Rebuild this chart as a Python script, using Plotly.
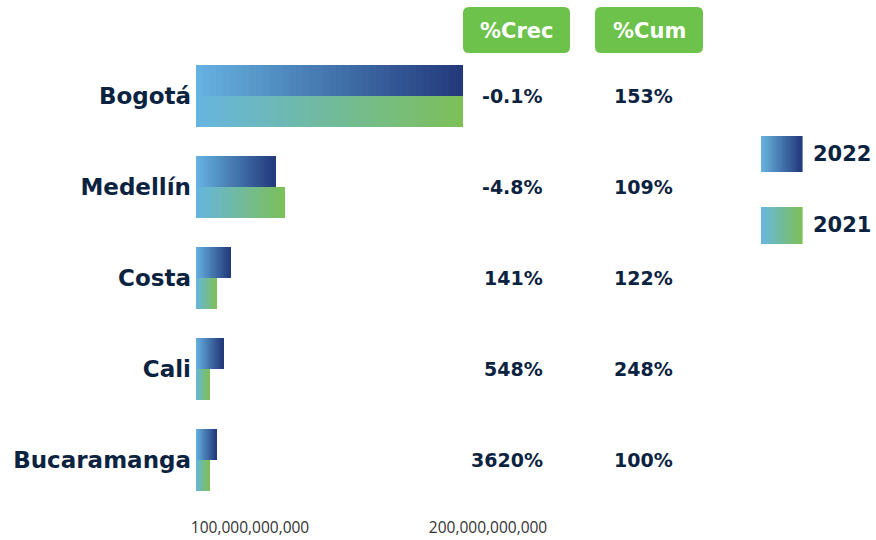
import plotly.graph_objects as go

# datos
ciudades = ["Bogotá", "Medellín", "Costa", "Cali", "Bucaramanga"]
ventas_2022 = [189.5e9, 110.9e9, 92.0e9, 88.7e9, 86.1e9]
ventas_2021 = [189.5e9, 114.7e9, 86.1e9, 82.8e9, 82.8e9]
crec = ["-0.1%", "-4.8%", "141%", "548%", "3620%"]
cum = ["153%", "109%", "122%", "248%", "100%"]
tick_vals = [100e9, 200e9]
tick_text = ["100,000,000,000", "200,000,000,000"]

W, H = 876, 540
X_MIN, X_MAX = 77.3e9, 363e9
N = 40  # pasos del degradado
NAVY = "#0b2341"
VERDE = "#6cc24a"
FUENTE = "DejaVu Sans"

def mezcla(c1, c2, t):
    return "rgb(%d,%d,%d)" % tuple(round(a + (b - a) * t) for a, b in zip(c1, c2))

grad_2022 = ((102, 179, 224), (34, 56, 122))
grad_2021 = ((102, 181, 224), (125, 192, 88))

fig = go.Figure()

def barras_degradado(valores, grad, offset, nombre):
    largo = [v - X_MIN for v in valores]
    for i in range(N):
        # cada tramo se solapa un poco con el siguiente para evitar rayas
        f = 1.0 if i == N - 1 else 1.8
        fig.add_trace(go.Bar(
            y=ciudades,
            x=[l / N * f for l in largo],
            base=[X_MIN + l * i / N for l in largo],
            orientation="h",
            width=0.34,
            offset=offset,
            marker=dict(color=mezcla(grad[0], grad[1], (i + 0.5) / N), line=dict(width=0)),
            name=nombre,
            showlegend=False,
            hoverinfo="skip",
        ))

barras_degradado(ventas_2022, grad_2022, -0.34, "2022")
barras_degradado(ventas_2021, grad_2021, 0.0, "2021")

def px(x):
    return x / W

def py(y):
    return 1 - y / H

anotaciones = []
for c, a, b in zip(ciudades, crec, cum):
    for xr, t in [(545, a), (675, b)]:
        anotaciones.append(dict(x=px(xr), y=c, xref="paper", yref="y", text=t, showarrow=False,
                                xanchor="right", yanchor="middle",
                                font=dict(family=FUENTE, size=19, color=NAVY, weight="bold")))

shapes = []

def caja(x0, y0, x1, y1, r=6):
    rx, ry = r / W, r / H
    a0, b0, a1, b1 = px(x0), py(y1), px(x1), py(y0)
    path = (f"M{a0+rx},{b0} L{a1-rx},{b0} Q{a1},{b0} {a1},{b0+ry} L{a1},{b1-ry} Q{a1},{b1} {a1-rx},{b1} "
            f"L{a0+rx},{b1} Q{a0},{b1} {a0},{b1-ry} L{a0},{b0+ry} Q{a0},{b0} {a0+rx},{b0} Z")
    shapes.append(dict(type="path", path=path, xref="paper", yref="paper",
                       fillcolor=VERDE, line=dict(width=0)))

for (x0, x1), titulo in [((463, 570), "%Crec"), ((595, 703), "%Cum")]:
    caja(x0, 7, x1, 53)
    anotaciones.append(dict(x=px((x0 + x1) / 2), y=py(31), xref="paper", yref="paper", text=titulo,
                            showarrow=False, xanchor="center", yanchor="middle",
                            font=dict(family=FUENTE, size=21, color="white", weight="bold")))

# leyenda con degradado
for (y0, y1), grad, anio in [((136, 172), grad_2022, "2022"), ((207, 244), grad_2021, "2021")]:
    x0, x1 = 761, 802
    paso = (x1 - x0) / 20
    for i in range(20):
        shapes.append(dict(type="rect", xref="paper", yref="paper",
                           x0=px(x0 + i * paso), x1=px(x0 + (i + 1) * paso + 0.6),
                           y0=py(y1), y1=py(y0),
                           fillcolor=mezcla(grad[0], grad[1], (i + 0.5) / 20), line=dict(width=0)))
    anotaciones.append(dict(x=px(873), y=py((y0 + y1) / 2), xref="paper", yref="paper", text=anio,
                            showarrow=False, xanchor="right", yanchor="middle",
                            font=dict(family=FUENTE, size=21, color=NAVY, weight="bold")))

fig.update_layout(
    width=W, height=H,
    barmode="overlay",
    paper_bgcolor="white", plot_bgcolor="white",
    margin=dict(l=0, r=0, t=0, b=0),
    xaxis=dict(domain=[px(196), 1], range=[X_MIN, X_MAX], tickvals=tick_vals, ticktext=tick_text,
               showgrid=False, zeroline=False, showline=False, automargin=False,
               ticklabelstandoff=11,
               tickfont=dict(family="Open Sans", size=15.5, color="#333333")),
    yaxis=dict(domain=[1 - 505.5 / H, 1 - 50.5 / H], type="category", categoryorder="array",
               categoryarray=ciudades, range=[4.5, -0.5], showgrid=False, zeroline=False,
               showline=False, automargin=False, ticks="", ticklabelstandoff=4,
               tickfont=dict(family=FUENTE, size=23, color=NAVY, weight="bold")),
    annotations=anotaciones,
    shapes=shapes,
)

fig.write_html("out.html", config={"displayModeBar": False},
               post_script="document.body.style.margin='0';")
